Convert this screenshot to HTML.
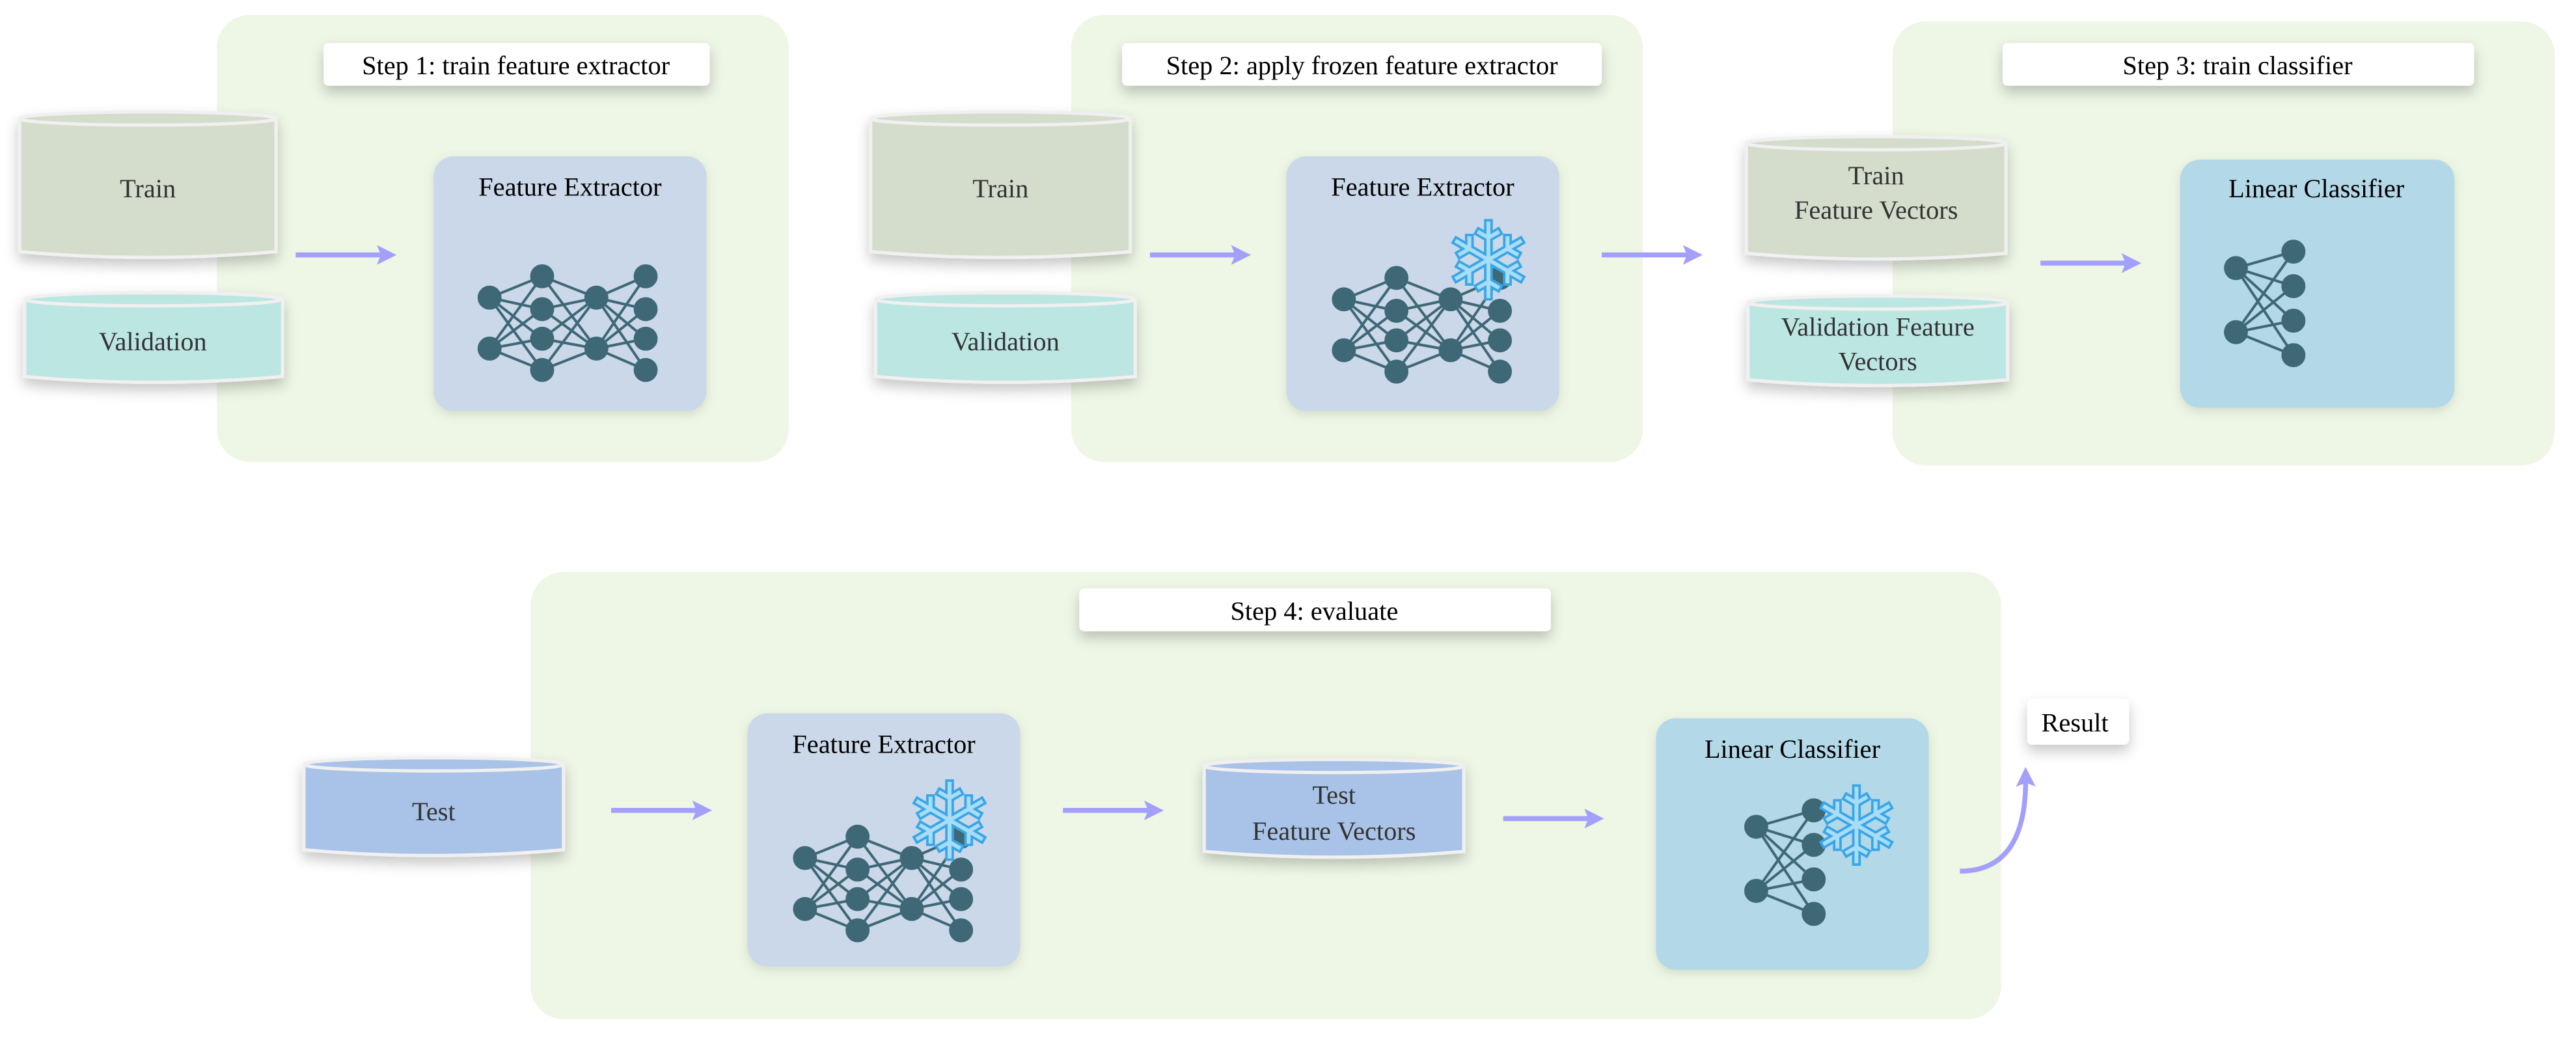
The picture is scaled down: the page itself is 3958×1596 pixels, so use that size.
<!DOCTYPE html>
<html><head><meta charset="utf-8"><style>html,body{margin:0;padding:0;background:#fff}svg{display:block}
.t{font-family:"Liberation Serif","Times New Roman",Times,serif !important}
.sf{font-family:"DejaVu Sans",sans-serif}</style></head>
<body>
<svg width="3958" height="1596" viewBox="0 0 1568 632" xmlns="http://www.w3.org/2000/svg" style="font-family:'Liberation Serif',serif">
<defs>
<filter id="sh" x="-30%" y="-30%" width="160%" height="170%"><feDropShadow dx="0" dy="4" stdDeviation="4" flood-color="#000" flood-opacity="0.22"/></filter>
<filter id="sh2" x="-20%" y="-20%" width="140%" height="140%"><feDropShadow dx="0" dy="2" stdDeviation="3" flood-color="#7a8a70" flood-opacity="0.25"/></filter>
<marker id="ah" markerWidth="4" markerHeight="4" refX="2.2" refY="2" orient="auto" markerUnits="strokeWidth"><path d="M0,0 L4,2 L0,4 L0.8,2 Z" fill="#a3a0fb"/></marker>
<g id="fenet" fill="#3f6876" stroke="#3f6876" stroke-width="1.6">
<g>
<line x1="0" y1="0" x2="32" y2="-13"/><line x1="0" y1="0" x2="32" y2="7"/><line x1="0" y1="0" x2="32" y2="25"/><line x1="0" y1="0" x2="32" y2="44"/>
<line x1="0" y1="31" x2="32" y2="-13"/><line x1="0" y1="31" x2="32" y2="7"/><line x1="0" y1="31" x2="32" y2="25"/><line x1="0" y1="31" x2="32" y2="44"/>
<line x1="65" y1="0" x2="32" y2="-13"/><line x1="65" y1="0" x2="32" y2="7"/><line x1="65" y1="0" x2="32" y2="25"/><line x1="65" y1="0" x2="32" y2="44"/>
<line x1="65" y1="31" x2="32" y2="-13"/><line x1="65" y1="31" x2="32" y2="7"/><line x1="65" y1="31" x2="32" y2="25"/><line x1="65" y1="31" x2="32" y2="44"/>
<line x1="65" y1="0" x2="95" y2="-13"/><line x1="65" y1="0" x2="95" y2="7"/><line x1="65" y1="0" x2="95" y2="25"/><line x1="65" y1="0" x2="95" y2="44"/>
<line x1="65" y1="31" x2="95" y2="-13"/><line x1="65" y1="31" x2="95" y2="7"/><line x1="65" y1="31" x2="95" y2="25"/><line x1="65" y1="31" x2="95" y2="44"/>
</g>
<circle cx="0" cy="0" r="6.5"/><circle cx="0" cy="31" r="6.5"/>
<circle cx="32" cy="-13" r="6.5"/><circle cx="32" cy="7" r="6.5"/><circle cx="32" cy="25" r="6.5"/><circle cx="32" cy="44" r="6.5"/>
<circle cx="65" cy="0" r="6.5"/><circle cx="65" cy="31" r="6.5"/>
<circle cx="95" cy="-13" r="6.5"/><circle cx="95" cy="7" r="6.5"/><circle cx="95" cy="25" r="6.5"/><circle cx="95" cy="44" r="6.5"/>
</g>
<g id="lcnet" fill="#3f6876" stroke="#3f6876" stroke-width="1.6">
<line x1="0" y1="0" x2="35" y2="-10"/><line x1="0" y1="0" x2="35" y2="11"/><line x1="0" y1="0" x2="35" y2="32"/><line x1="0" y1="0" x2="35" y2="53"/>
<line x1="0" y1="39" x2="35" y2="-10"/><line x1="0" y1="39" x2="35" y2="11"/><line x1="0" y1="39" x2="35" y2="32"/><line x1="0" y1="39" x2="35" y2="53"/>
<circle cx="0" cy="0" r="6.5"/><circle cx="0" cy="39" r="6.5"/>
<circle cx="35" cy="-10" r="6.5"/><circle cx="35" cy="11" r="6.5"/><circle cx="35" cy="32" r="6.5"/><circle cx="35" cy="53" r="6.5"/>
</g>
</defs>

<rect x="132" y="9" width="348" height="272" rx="20" fill="#eef6e6"/>
<rect x="652" y="9" width="348" height="272" rx="20" fill="#eef6e6"/>
<rect x="1152" y="13" width="403" height="270" rx="20" fill="#eef6e6"/>
<rect x="323" y="348" width="895" height="272" rx="20" fill="#eef6e6"/>

<g filter="url(#sh)" fill="#fff">
<rect x="197" y="26" width="235" height="26" rx="3"/>
<rect x="683" y="26" width="292" height="26" rx="3"/>
<rect x="1219" y="26" width="287" height="26" rx="3"/>
<rect x="657" y="358" width="287" height="26" rx="3"/>
<rect x="1234" y="425" width="62" height="28" rx="3"/>
</g>
<g font-size="16" fill="#000" text-anchor="middle" font-family="Liberation Serif">
<text class="t" x="314" y="45">Step 1: train feature extractor</text>
<text class="t" x="829" y="45">Step 2: apply frozen feature extractor</text>
<text class="t" x="1362" y="45">Step 3: train classifier</text>
<text class="t" x="800" y="377">Step 4: evaluate</text>
<text class="t" x="1263" y="445">Result</text>
</g>

<g filter="url(#sh)" stroke="#f0f0f0" stroke-width="2">
<g fill="#d4dccc"><path d="M12,72 V153 Q90,160 168,153 V72 Z"/><ellipse cx="90" cy="72" rx="78" ry="4"/></g>
<g fill="#bce6e2"><path d="M15,182 V229 Q93,236 172,229 V182 Z"/><ellipse cx="93" cy="182" rx="78" ry="4"/></g>
<g fill="#d4dccc"><path d="M530,72 V153 Q609,160 688,153 V72 Z"/><ellipse cx="609" cy="72" rx="79" ry="4"/></g>
<g fill="#bce6e2"><path d="M533,182 V229 Q612,236 691,229 V182 Z"/><ellipse cx="612" cy="182" rx="79" ry="4"/></g>
<g fill="#d4dccc"><path d="M1063,87 V154 Q1142,161 1221,154 V87 Z"/><ellipse cx="1142" cy="87" rx="79" ry="4"/></g>
<g fill="#bce6e2"><path d="M1064,184 V231 Q1143,238 1222,231 V184 Z"/><ellipse cx="1143" cy="184" rx="79" ry="4"/></g>
<g fill="#a9c3e8"><path d="M185,465 V517 Q264,524 343,517 V465 Z"/><ellipse cx="264" cy="465" rx="79" ry="4"/></g>
<g fill="#a9c3e8"><path d="M733,466 V518 Q812,525 891,518 V466 Z"/><ellipse cx="812" cy="466" rx="79" ry="4"/></g>
</g>
<g font-size="16" fill="#333" text-anchor="middle" font-family="Liberation Serif">
<text class="t" x="90" y="120">Train</text>
<text class="t" x="93" y="213">Validation</text>
<text class="t" x="609" y="120">Train</text>
<text class="t" x="612" y="213">Validation</text>
<text class="t" x="1142" y="112">Train</text>
<text class="t" x="1142" y="133">Feature Vectors</text>
<text class="t" x="1143" y="204">Validation Feature</text>
<text class="t" x="1143" y="225">Vectors</text>
<text class="t" x="264" y="499">Test</text>
<text class="t" x="812" y="489">Test</text>
<text class="t" x="812" y="511">Feature Vectors</text>
</g>

<g filter="url(#sh2)">
<rect x="264" y="95" width="166" height="155" rx="12" fill="#cad8ea"/>
<rect x="783" y="95" width="166" height="155" rx="12" fill="#cad8ea"/>
<rect x="1327" y="97" width="167" height="151" rx="12" fill="#b3d8e8"/>
<rect x="455" y="434" width="166" height="154" rx="12" fill="#cad8ea"/>
<rect x="1008" y="437" width="166" height="153" rx="12" fill="#b3d8e8"/>
</g>
<g font-size="16" fill="#000" text-anchor="middle" font-family="Liberation Serif">
<text class="t" x="347" y="119">Feature Extractor</text>
<text class="t" x="866" y="119">Feature Extractor</text>
<text class="t" x="1410" y="120">Linear Classifier</text>
<text class="t" x="538" y="458">Feature Extractor</text>
<text class="t" x="1091" y="461">Linear Classifier</text>
</g>
<use href="#fenet" x="298" y="181"/>
<use href="#fenet" x="818" y="182"/>
<use href="#fenet" x="490" y="522"/>
<use href="#lcnet" x="1361" y="163"/>
<use href="#lcnet" x="1069" y="503"/>

<g font-size="66" fill="#a8ddf8" stroke="#3aa6e6" stroke-width="1.5" text-anchor="middle">
<text class="sf" x="906" y="182">❄</text>
<text class="sf" x="578" y="523">❄</text>
<text class="sf" x="1130" y="526">❄</text>
</g>

<g stroke="#a3a0fb" stroke-width="3" fill="none" marker-end="url(#ah)">
<line x1="180" y1="155" x2="236" y2="155"/>
<line x1="700" y1="155" x2="756" y2="155"/>
<line x1="975" y1="155" x2="1031" y2="155"/>
<line x1="1242" y1="160" x2="1298" y2="160"/>
<line x1="372" y1="493" x2="428" y2="493"/>
<line x1="647" y1="493" x2="703" y2="493"/>
<line x1="915" y1="498" x2="971" y2="498"/>
<path d="M1193,530 Q1234,530 1233,472"/>
</g>
</svg>
</body></html>
